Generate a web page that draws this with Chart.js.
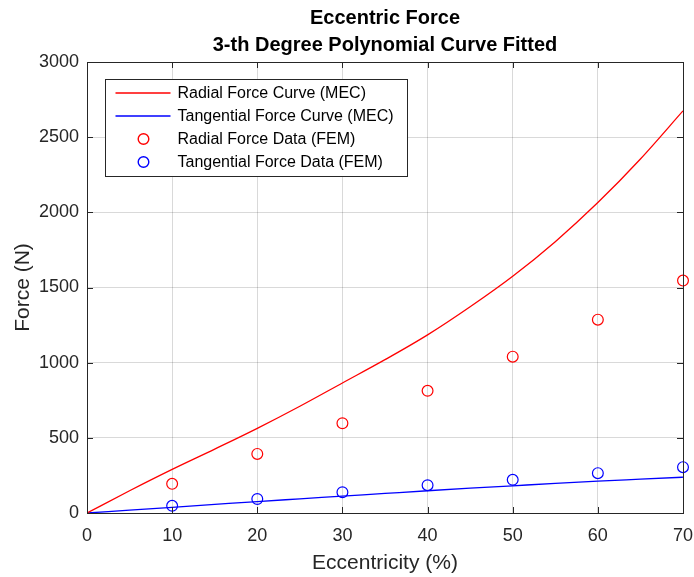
<!DOCTYPE html>
<html>
<head>
<meta charset="utf-8">
<script src="https://cdn.jsdelivr.net/npm/chart.js@4"></script>
<style>
  html, body { margin: 0; padding: 0; background: #fff; }
  #wrap { width: 694px; height: 577px; }
</style>
</head>
<body>
<div id="wrap"><canvas id="chart" width="694" height="577"></canvas></div>
<script>
// curve samples (every 5 %)
const curveX = [0, 5, 10, 15, 20, 25, 30, 35, 40, 45, 50, 55, 60, 65, 70];
const radialCurve = [0, 148, 290, 425, 563, 710, 865, 1020, 1185, 1372, 1575, 1805, 2065, 2355, 2675];
const tangentialCurve = [0, 19, 38, 57, 76, 94, 112, 130, 148, 165, 181, 197, 212, 225, 238];

// FEM data points
const femX = [10, 20, 30, 40, 50, 60, 70];
const radialFem = [194, 393, 597, 813, 1040, 1286, 1546];
const tangentialFem = [48, 93, 138, 185, 221, 265, 305];

const xTicks = [0, 10, 20, 30, 40, 50, 60, 70];
const yTicks = [0, 500, 1000, 1500, 2000, 2500, 3000];

const legendNames = [
    "Radial Force Curve (MEC)",
    "Tangential Force Curve (MEC)",
    "Radial Force Data (FEM)",
    "Tangential Force Data (FEM)"
];
const seriesColors = ["#ff0000", "#0000ff", "#ff0000", "#0000ff"];

const toPoints = (xs, ys) => xs.map((x, i) => ({ x: x, y: ys[i] }));

const axisColor = "#262626";
const fontFamily = "'Liberation Sans', Arial, sans-serif";

// box, inward ticks and the legend inside the axes, MATLAB style
const axesBox = {
    id: "axesBox",
    afterDatasetsDraw(chart) {
        const ctx = chart.ctx;
        const a = chart.chartArea;
        const xs = chart.scales.x, ys = chart.scales.y;
        ctx.save();
        ctx.strokeStyle = axisColor;
        ctx.lineWidth = 1;
        ctx.beginPath();
        xTicks.forEach(t => {
            const px = Math.round(xs.getPixelForValue(t)) + 0.5;
            ctx.moveTo(px, a.bottom); ctx.lineTo(px, a.bottom - 6);
            ctx.moveTo(px, a.top); ctx.lineTo(px, a.top + 6);
        });
        yTicks.forEach(t => {
            const py = Math.round(ys.getPixelForValue(t)) + 0.5;
            ctx.moveTo(a.left, py); ctx.lineTo(a.left + 6, py);
            ctx.moveTo(a.right, py); ctx.lineTo(a.right - 6, py);
        });
        ctx.stroke();
        ctx.strokeRect(Math.round(a.left) + 0.5, Math.round(a.top) + 0.5,
            Math.round(a.right - a.left), Math.round(a.bottom - a.top));

        // legend
        const lx = Math.round(a.left) + 18.5, ly = Math.round(a.top) + 17.5;
        const lw = 302, lh = 97;
        ctx.fillStyle = "#fff";
        ctx.fillRect(lx, ly, lw, lh);
        ctx.strokeStyle = axisColor;
        ctx.lineWidth = 1;
        ctx.strokeRect(lx, ly, lw, lh);
        ctx.font = "16px " + fontFamily;
        ctx.textBaseline = "middle";
        ctx.textAlign = "left";
        legendNames.forEach((name, i) => {
            const cy = Math.round(ly + 13.5 + i * 23.1);
            ctx.strokeStyle = seriesColors[i];
            ctx.lineWidth = 1.4;
            ctx.beginPath();
            if (i >= 2) {
                ctx.arc(lx + 38, cy, 5.3, 0, Math.PI * 2);
            } else {
                ctx.moveTo(lx + 10, cy);
                ctx.lineTo(lx + 65, cy);
            }
            ctx.stroke();
            ctx.fillStyle = "#000";
            ctx.fillText(name, lx + 72, cy + 1);
        });
        ctx.restore();
    }
};

const ctx = document.getElementById("chart").getContext("2d");
const chart = new Chart(ctx, {
    type: "line",
    data: {
        datasets: [
            {
                label: legendNames[0],
                data: toPoints(curveX, radialCurve),
                borderColor: seriesColors[0],
                borderWidth: 1.3,
                pointRadius: 0,
                cubicInterpolationMode: "monotone"
            },
            {
                label: legendNames[1],
                data: toPoints(curveX, tangentialCurve),
                borderColor: seriesColors[1],
                borderWidth: 1.3,
                pointRadius: 0,
                cubicInterpolationMode: "monotone"
            },
            {
                label: legendNames[2],
                data: toPoints(femX, radialFem),
                borderColor: seriesColors[2],
                backgroundColor: "transparent",
                showLine: false,
                pointRadius: 5.4,
                pointBorderWidth: 1.2,
                clip: false
            },
            {
                label: legendNames[3],
                data: toPoints(femX, tangentialFem),
                borderColor: seriesColors[3],
                backgroundColor: "transparent",
                showLine: false,
                pointRadius: 5.4,
                pointBorderWidth: 1.2,
                clip: false
            }
        ]
    },
    options: {
        responsive: false,
        animation: false,
        layout: { padding: { left: 0, right: 11, top: 0, bottom: 0 } },
        plugins: {
            legend: { display: false },
            tooltip: { enabled: false },
            title: {
                display: true,
                fullSize: false,
                text: ["Eccentric Force", "3-th Degree Polynomial Curve Fitted"],
                color: "#000",
                font: { family: fontFamily, size: 20, weight: "bold", lineHeight: 1.36 },
                padding: { top: 4.5, bottom: 3.1 }
            }
        },
        scales: {
            x: {
                type: "linear",
                min: 0,
                max: 70,
                afterBuildTicks: s => { s.ticks = xTicks.map(v => ({ value: v })); },
                afterFit: s => { s.height = 64; s.paddingLeft = 0; s.paddingRight = 0; },
                grid: { color: "rgba(0,0,0,0.15)", drawTicks: false },
                border: { display: false },
                ticks: {
                    color: axisColor,
                    padding: 12,
                    font: { family: fontFamily, size: 18 },
                    callback: v => String(v)
                },
                title: {
                    display: true,
                    text: "Eccentricity (%)",
                    color: axisColor,
                    font: { family: fontFamily, size: 21 },
                    padding: { top: 0, bottom: 1 }
                }
            },
            y: {
                min: 0,
                max: 3000,
                afterBuildTicks: s => { s.ticks = yTicks.map(v => ({ value: v })); },
                afterFit: s => { s.width = 87; },
                grid: { color: "rgba(0,0,0,0.15)", drawTicks: false },
                border: { display: false },
                ticks: {
                    color: axisColor,
                    padding: 8,
                    font: { family: fontFamily, size: 18 },
                    callback: v => String(v)
                },
                title: {
                    display: true,
                    text: "Force (N)",
                    color: axisColor,
                    font: { family: fontFamily, size: 21 },
                    padding: { top: 11, bottom: 0 }
                }
            }
        }
    },
    plugins: [axesBox]
});
</script>
</body>
</html>
